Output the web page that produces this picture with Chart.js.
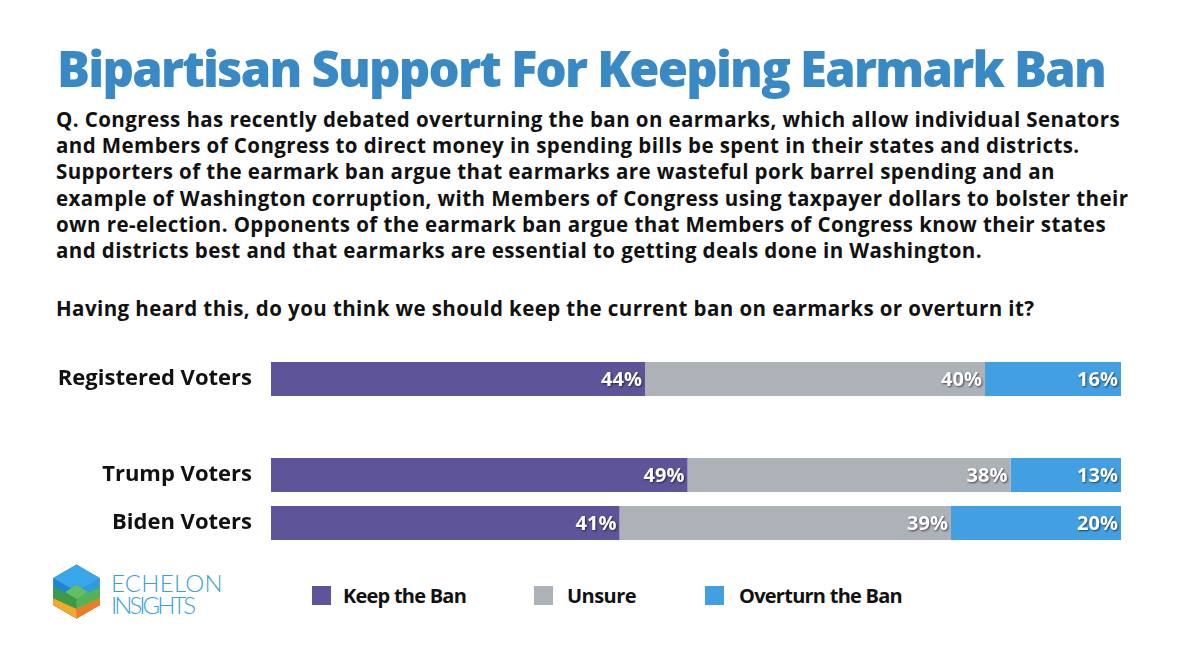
<!DOCTYPE html>
<html>
<head>
<meta charset="utf-8">
<script src="https://cdn.jsdelivr.net/npm/chart.js@4.4.1/dist/chart.umd.min.js"></script>
<style>
  html, body { margin:0; padding:0; background:#ffffff; }
  body { width:1200px; height:671px; position:relative; overflow:hidden; font-family:"Open Sans", sans-serif; }
  .line { position:absolute; white-space:nowrap; font-weight:700; color:#111111; }
  #title { font-size:49px; font-weight:800; color:#398ac4; }
  .q { font-size:20.5px; }
  #chartWrap { position:absolute; left:0; top:340px; width:1200px; height:220px; }
  .lg-box { position:absolute; width:19px; height:19px; }
  .lg-text { font-size:20px; }
  .logo-text { position:absolute; white-space:nowrap; font-family:Lato, sans-serif; font-weight:300; color:#3a9fd9; font-size:24px; }
</style>
</head>
<body>
<div id="title" class="line">Bipartisan Support For Keeping Earmark Ban</div>
<div id="qwrap"></div>

<svg id="logo" width="1200" height="671" style="position:absolute;left:0;top:0;pointer-events:none">
  <defs>
    <clipPath id="hexclip">
      <polygon points="76.5,564.5 99.9,578 99.9,605 76.5,618.5 53.1,605 53.1,578"/>
    </clipPath>
  </defs>
  <g clip-path="url(#hexclip)">
    <rect x="50" y="560" width="27" height="62" fill="#1f86c9"/>
    <rect x="76.5" y="560" width="27" height="62" fill="#2f9ae0"/>
    <polygon points="76.5,564.5 99.9,578 76.5,591.5 53.1,578" fill="#3aa6ea"/>
    <polygon points="50,586 76.5,598 103,586 103,622 50,622" fill="#3f9a48"/>
    <polygon points="76.5,598 103,586 103,622 76.5,622" fill="#55b257"/>
    <polygon points="65,592 76.5,585 88,592 76.5,599" fill="#62c062"/>
    <polygon points="50,597 76.5,609 103,597 103,622 50,622" fill="#f5a82c"/>
    <polygon points="76.5,609 103,597 103,622 76.5,622" fill="#ee7b25"/>
  </g>
</svg>
<div id="logo1" class="logo-text">ECHELON</div>
<div id="logo2" class="logo-text">INSIGHTS</div>

<div id="chartWrap"><canvas id="c" width="1200" height="220"></canvas></div>

<div id="legend"></div>

<script>
// ---- data ----
const categories = ['Registered Voters', '', 'Trump Voters', 'Biden Voters'];
const seriesNames = ['Keep the Ban', 'Unsure', 'Overturn the Ban'];
const keepBan   = [44, null, 49, 41];
const unsure    = [40, null, 38, 39];
const overturn  = [16, null, 13, 20];
const seriesColors = ['#5e5499', '#adb1b8', '#42a0e2'];

const questionLines = [
  'Q. Congress has recently debated overturning the ban on earmarks, which allow individual Senators',
  'and Members of Congress to direct money in spending bills be spent in their states and districts.',
  'Supporters of the earmark ban argue that earmarks are wasteful pork barrel spending and an',
  'example of Washington corruption, with Members of Congress using taxpayer dollars to bolster their',
  'own re-election. Opponents of the earmark ban argue that Members of Congress know their states',
  'and districts best and that earmarks are essential to getting deals done in Washington.'
];
const questionLine2 = 'Having heard this, do you think we should keep the current ban on earmarks or overturn it?';

// ---- text helpers ----
function placeBaseline(el, left, baseline) {
  el.style.left = left + 'px';
  el.style.top = '0px';
  const m = document.createElement('span');
  m.style.cssText = 'display:inline-block;width:0;height:0;vertical-align:baseline';
  el.appendChild(m);
  const off = m.getBoundingClientRect().bottom - el.getBoundingClientRect().top;
  el.removeChild(m);
  el.style.top = (baseline - off) + 'px';
}
function fitWidth(el, target) {
  el.style.letterSpacing = '0px';
  const w = el.getBoundingClientRect().width;
  const n = el.textContent.length;
  const ls = (target - w) / n;
  el.style.letterSpacing = ls + 'px';
  return ls;
}

const title = document.getElementById('title');
fitWidth(title, 1048);
placeBaseline(title, 57, 87);

const qwrap = document.getElementById('qwrap');
const qEls = [];
questionLines.forEach(t => { const d = document.createElement('div'); d.className = 'line q'; d.textContent = t; qwrap.appendChild(d); qEls.push(d); });
const q2 = document.createElement('div'); q2.className = 'line q'; q2.textContent = questionLine2; qwrap.appendChild(q2);
const ls = fitWidth(qEls[0], 1064);
qEls.forEach((d, i) => { d.style.letterSpacing = ls + 'px'; placeBaseline(d, 56, 127 + i * 26.2); });
q2.style.letterSpacing = ls + 'px';
placeBaseline(q2, 56, 316);

const l1 = document.getElementById('logo1'); fitWidth(l1, 112); placeBaseline(l1, 111, 592);
const l2 = document.getElementById('logo2'); fitWidth(l2, 82); placeBaseline(l2, 111, 614);

// legend (html)
const legend = document.getElementById('legend');
const lgBoxX = [312, 534, 705];
const lgTextX = [343, 567, 739];
const lgTextW = [123, 69, 163];
seriesNames.forEach((n, i) => {
  const b = document.createElement('div'); b.className = 'lg-box';
  b.style.left = lgBoxX[i] + 'px'; b.style.top = '586px'; b.style.background = seriesColors[i];
  legend.appendChild(b);
  const t = document.createElement('div'); t.className = 'line lg-text'; t.textContent = n;
  legend.appendChild(t);
  fitWidth(t, lgTextW[i]);
  placeBaseline(t, lgTextX[i], 603);
});

// ---- chart ----
const valueLabels = {
  id: 'valueLabels',
  afterDatasetsDraw(chart) {
    const ctx = chart.ctx;
    ctx.save();
    ctx.font = 'bold 20px "Open Sans", sans-serif';
    ctx.textAlign = 'right';
    ctx.textBaseline = 'middle';
    ctx.fillStyle = '#ffffff';
    ctx.shadowColor = 'rgba(0,0,0,0.6)';
    ctx.shadowOffsetX = 1;
    ctx.shadowOffsetY = 1;
    ctx.shadowBlur = 2;
    chart.data.datasets.forEach((ds, i) => {
      const meta = chart.getDatasetMeta(i);
      meta.data.forEach((el, j) => {
        const v = ds.data[j];
        if (v === null || v === undefined) return;
        ctx.fillText(v + '%', el.x - 3, el.y + 1);
      });
    });
    ctx.restore();
  }
};

new Chart(document.getElementById('c'), {
  type: 'bar',
  data: {
    labels: categories,
    datasets: [
      { label: seriesNames[0], data: keepBan, backgroundColor: seriesColors[0] },
      { label: seriesNames[1], data: unsure, backgroundColor: seriesColors[1] },
      { label: seriesNames[2], data: overturn, backgroundColor: seriesColors[2] }
    ]
  },
  options: {
    indexAxis: 'y',
    responsive: false,
    animation: false,
    events: [],
    layout: { padding: { left: 0, right: 79, top: 15, bottom: 13 } },
    datasets: { bar: { barPercentage: 1, categoryPercentage: 34 / 48, borderWidth: 0 } },
    plugins: { legend: { display: false }, tooltip: { enabled: false }, title: { display: false } },
    scales: {
      x: { stacked: true, min: 0, max: 100, display: false },
      y: {
        stacked: true,
        grid: { display: false, drawTicks: false },
        border: { display: false },
        ticks: { color: '#111111', padding: 19, font: { family: '"Open Sans", sans-serif', size: 22, weight: 'bold' } },
        afterFit(scale) { scale.width = 271; scale.paddingTop = 0; scale.paddingBottom = 0; }
      }
    }
  },
  plugins: [valueLabels]
});
</script>
</body>
</html>
